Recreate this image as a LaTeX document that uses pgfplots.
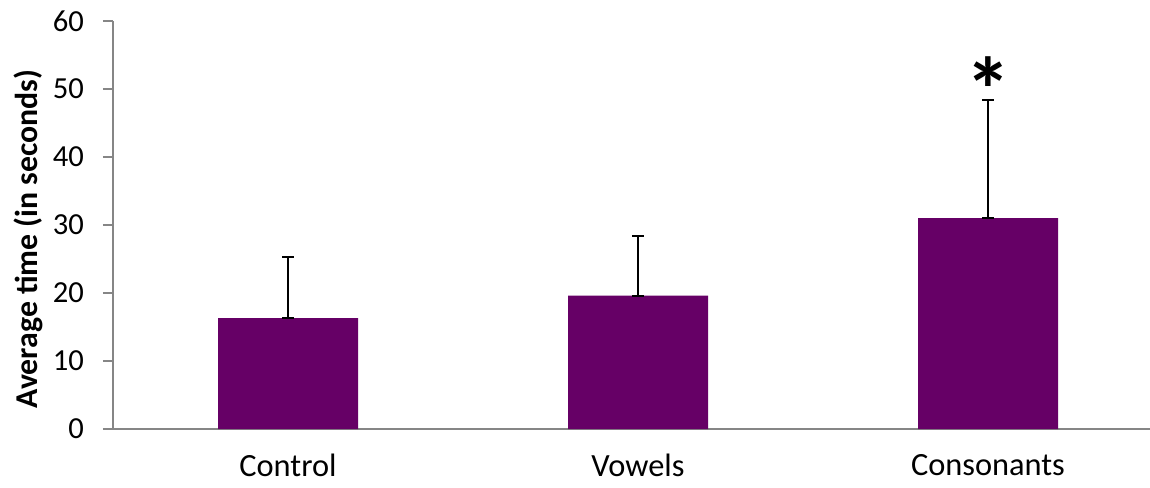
\documentclass[border=0pt]{standalone}
\usepackage{pgfplots}
\pgfplotsset{compat=1.18}
\usepackage{fontspec}
\setmainfont{Carlito}
\definecolor{barpurple}{HTML}{660066}
\definecolor{axgray}{HTML}{868686}
\begin{document}
\begin{tikzpicture}
\begin{axis}[
  name=ax,
  at={(0,0)}, anchor=south west,
  scale only axis,
  width=525pt, height=204pt,
  xmin=-0.5, xmax=2.5,
  ymin=0, ymax=60,
  ytick={0,10,...,60},
  xtick={0,1,2},
  xticklabels={Control,Vowels,Consonants},
  extra x ticks={-0.5,0.5,1.5,2.5},
  extra x tick labels={},
  extra x tick style={major tick length=5pt, tick style={axgray, line width=1pt}},
  major x tick style={draw=none},
  tick align=outside,
  major tick length=5pt,
  tick style={axgray, line width=1pt},
  axis x line*=bottom,
  axis y line*=left,
  axis line style={axgray, line width=1pt, -},
  yticklabel style={font=\fontsize{15.3}{17}\selectfont, xshift=-6pt},
  /pgf/number format/assume math mode=true,
  xticklabel style={font=\fontsize{16.2}{18}\selectfont, yshift=-4pt},
  ylabel={\bfseries Average time (in seconds)},
  ylabel style={font=\fontsize{15.9}{18}\selectfont, at={(ticklabel cs:0.466)}, yshift=-2pt},
  clip=false,
]
\addplot[ybar, bar width=0.4, fill=barpurple, draw=none,
  error bars/.cd, y dir=both, y explicit,
  error bar style={black, line width=0.9pt},
  error mark options={rotate=90, mark size=3pt, black, line width=0.9pt}]
  table[x=x, y=y, y error plus=e, y error minus=z] {
x y e z
0 16.3 9.0 0
1 19.6 8.8 0
2 31.0 17.4 0
};
\node[font=\fontsize{46}{46}\selectfont\bfseries] at (axis cs:2,49.9) {*};
\end{axis}
\pgfresetboundingbox
\path ([shift={(-56.5pt,-29pt)}]ax.south west) rectangle ([shift={(-6.5pt,10.5pt)}]ax.north east);
\end{tikzpicture}
\end{document}
